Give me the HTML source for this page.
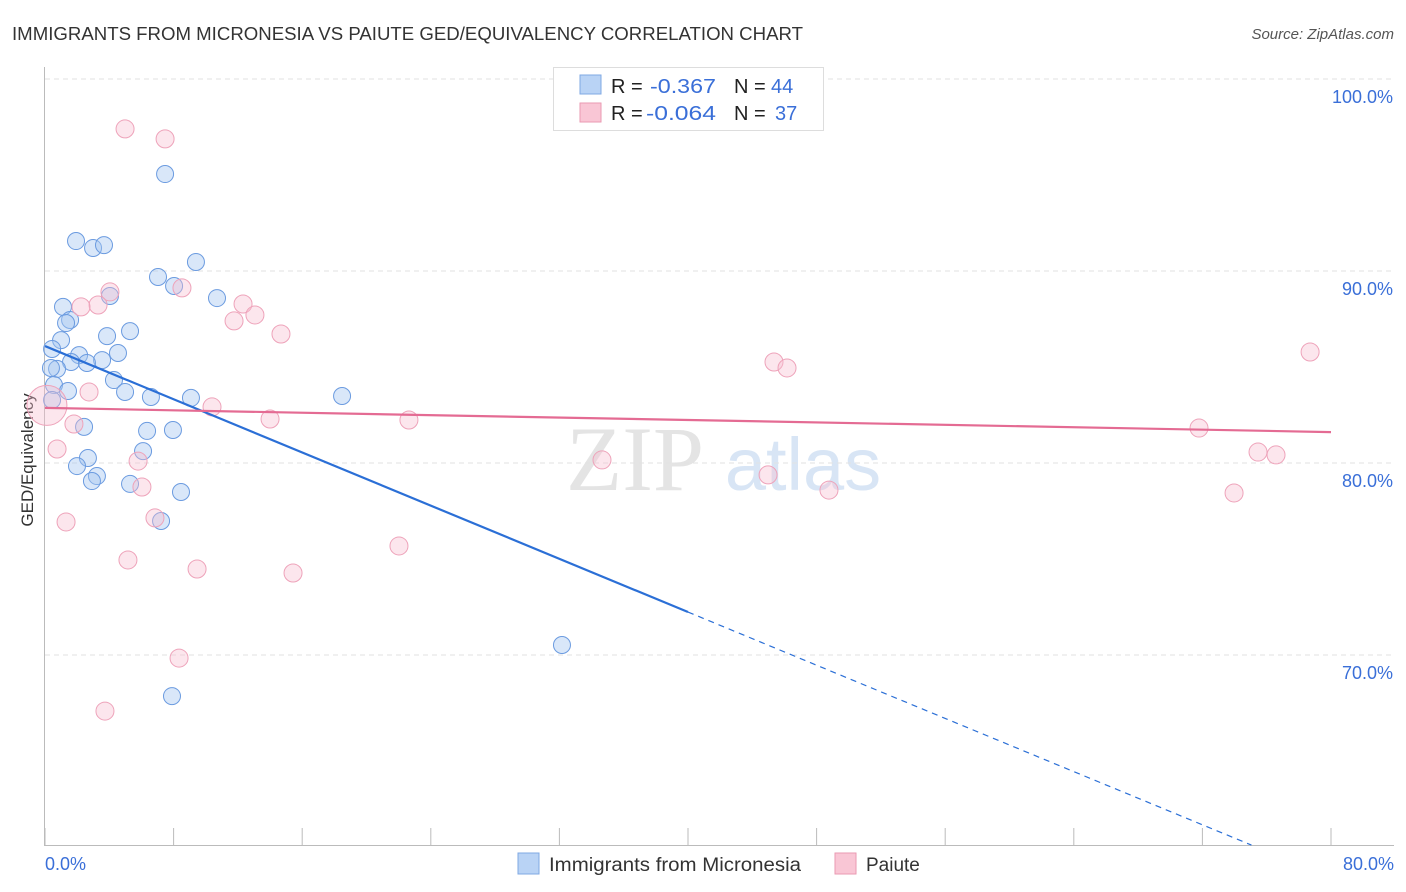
<!DOCTYPE html>
<html><head><meta charset="utf-8"><style>
body{margin:0;background:#fff;font-family:"Liberation Sans",sans-serif;}
#wrap{position:relative;width:1406px;height:892px;overflow:hidden;}
</style></head><body>
<div id="wrap">
<svg id="svg" width="1406" height="892" xmlns="http://www.w3.org/2000/svg">
<text x="12" y="40" font-size="18" fill="#333" textLength="791" lengthAdjust="spacingAndGlyphs">IMMIGRANTS FROM MICRONESIA VS PAIUTE GED/EQUIVALENCY CORRELATION CHART</text>
<text x="1394" y="39" font-size="15" fill="#555" text-anchor="end" font-style="italic">Source: ZipAtlas.com</text>
<text x="33" y="460" font-size="17" fill="#333" text-anchor="middle" transform="rotate(-90 33 460)">GED/Equivalency</text>
<g><text x="635" y="490" font-size="92" fill="#e4e4e4" font-family="Liberation Serif,serif" text-anchor="middle">ZIP</text><text x="803" y="490" font-size="74" fill="#d8e5f5" text-anchor="middle">atlas</text></g>
<g id="grid"></g><g id="marks"></g>
<g>
<rect x="553.5" y="67.5" width="270" height="63" fill="#fff" stroke="#ddd"/>
<rect x="580" y="75" width="21" height="19" fill="#b9d3f5" stroke="#7fa8e3"/>
<rect x="580" y="103" width="21" height="19" fill="#f9c6d5" stroke="#ea9ab2"/>
<text x="611" y="93" font-size="20" fill="#222">R = </text><text x="650" y="93" font-size="20" fill="#3a6fd8" textLength="66" lengthAdjust="spacingAndGlyphs">-0.367</text>
<text x="734" y="93" font-size="20" fill="#222">N = </text><text x="771" y="93" font-size="20" fill="#3a6fd8">44</text>
<text x="611" y="120" font-size="20" fill="#222">R = </text><text x="646" y="120" font-size="20" fill="#3a6fd8" textLength="70" lengthAdjust="spacingAndGlyphs">-0.064</text>
<text x="734" y="120" font-size="20" fill="#222">N = </text><text x="775" y="120" font-size="20" fill="#3a6fd8">37</text>
</g>
<g>
<rect x="518" y="853" width="21" height="21" fill="#b9d3f5" stroke="#7fa8e3"/>
<text x="549" y="871" font-size="19" fill="#333" textLength="252" lengthAdjust="spacingAndGlyphs">Immigrants from Micronesia</text>
<rect x="835" y="853" width="21" height="21" fill="#f9c6d5" stroke="#ea9ab2"/>
<text x="866" y="871" font-size="19" fill="#333">Paiute</text>
</g>
<text x="45" y="870" font-size="18" fill="#3a6fd8">0.0%</text>
<text x="1394" y="870" font-size="18" fill="#3a6fd8" text-anchor="end">80.0%</text>
</svg>
</div>
<script>
const blueX=[7.47,1.93,2.99,3.67,9.39,7.03,8.03,4.04,10.7,1.12,1.56,1.31,5.29,3.86,1.0,0.44,4.54,2.12,3.55,1.62,2.61,0.75,0.37,4.29,0.56,1.43,4.98,6.59,9.08,18.48,0.44,2.43,6.35,7.96,2.67,6.1,1.99,3.23,2.92,5.29,8.46,7.22,32.16,7.9];
const blueY=[95.05,91.56,91.2,91.35,90.47,89.69,89.22,88.7,88.59,88.13,87.45,87.29,86.87,86.61,86.4,85.94,85.73,85.62,85.36,85.26,85.21,84.9,84.95,84.32,84.06,83.75,83.7,83.44,83.39,83.49,83.28,81.88,81.67,81.72,80.26,80.62,79.84,79.32,79.06,78.91,78.49,76.98,70.52,67.86];
const pinkX=[4.98,7.47,4.04,3.3,2.24,8.52,12.32,13.06,11.76,14.68,45.35,46.16,78.7,2.74,10.39,1.8,14.0,22.64,71.79,0.75,75.46,76.58,5.79,34.65,6.03,44.98,48.77,73.97,1.31,6.84,5.16,22.02,9.46,15.43,8.34,3.73,0.12];
const pinkY=[97.4,96.88,88.91,88.23,88.13,89.12,88.28,87.71,87.4,86.72,85.26,84.95,85.78,83.7,82.92,82.03,82.29,82.24,81.82,80.73,80.57,80.42,80.1,80.16,78.75,79.38,78.59,78.44,76.93,77.14,74.95,75.68,74.48,74.27,69.84,67.08,83.0];
const pinkR=[9,9,9,9,9,9,9,9,9,9,9,9,9,9,9,9,9,9,9,9,9,9,9,9,9,9,9,9,9,9,9,9,9,9,9,9,20];
const blueTrend=[86.09,-0.3463]; // intercept, slope
const pinkTrend=[82.87,-0.01575];
const yTicks=[100,90,80,70];
const xTicks=[0,8,16,24,32,40,48,56,64,72,80];

const NS='http://www.w3.org/2000/svg';
const X=v=>45+v*(1286/80);
const Y=v=>79+(100-v)*19.2;
function mk(t,a,p){const e=document.createElementNS(NS,t);for(const k in a)e.setAttribute(k,a[k]);p.appendChild(e);return e;}
const grid=document.getElementById('grid'),marks=document.getElementById('marks');
yTicks.forEach(t=>{
  const l=mk('line',{x1:45,x2:1394,y1:Y(t),y2:Y(t),stroke:'#e2e2e2','stroke-dasharray':'5,4'},grid);
  
  
  const tx=mk('text',{x:1393,y:Y(t)+24,'font-size':18,fill:'#3a6fd8','text-anchor':'end'},grid);
  tx.textContent=t.toFixed(1)+'%';
  
  
});
const ax=mk('line',{x1:45,x2:1394,y1:845.5,y2:845.5,stroke:'#bbb'},grid);


const ay=mk('line',{x1:44.5,x2:44.5,y1:67,y2:846,stroke:'#bbb'},grid);


xTicks.forEach(t=>{
  const l=mk('line',{x1:X(t),x2:X(t),y1:828,y2:846,stroke:'#bbb'},grid);
  
  
});
blueX.forEach((v,i)=>{
  const c=mk('circle',{cx:X(v),cy:Y(blueY[i]),r:8.5,fill:'rgba(165,198,240,0.42)',stroke:'#6b9be0','stroke-width':1},marks);
  
  
});
pinkX.forEach((v,i)=>{
  const c=mk('circle',{cx:X(v),cy:Y(pinkY[i]),r:pinkR[i],fill:'rgba(248,190,208,0.38)',stroke:'#eea3ba','stroke-width':1},marks);
  
  
});
const bf=x=>blueTrend[0]+blueTrend[1]*x;
const bl=mk('line',{x1:X(0),y1:Y(bf(0)),x2:X(40),y2:Y(bf(40)),stroke:'#2b6fd6','stroke-width':2.2},marks);


const xEnd=(60.1-blueTrend[0])/blueTrend[1];
const bd=mk('line',{x1:X(40),y1:Y(bf(40)),x2:X(xEnd),y2:Y(bf(xEnd)),stroke:'#2b6fd6','stroke-width':1.2,'stroke-dasharray':'6,5'},marks);


const pf=x=>pinkTrend[0]+pinkTrend[1]*x;
const pl=mk('line',{x1:X(0),y1:Y(pf(0)),x2:X(80),y2:Y(pf(80)),stroke:'#e46b93','stroke-width':2.2},marks);


</script>
</body></html>
